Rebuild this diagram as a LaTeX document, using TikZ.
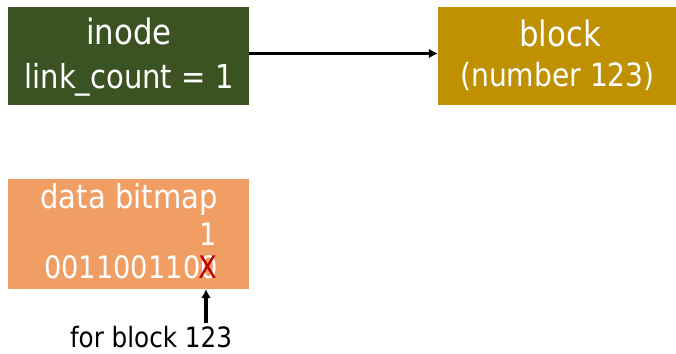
\documentclass[tikz,border=0pt]{standalone}
\usepackage{fontspec}
\setmainfont{DejaVu Sans}[FakeStretch=0.88]
\usetikzlibrary{arrows.meta}
\definecolor{inodegreen}{HTML}{3B5323}
\definecolor{blockgold}{HTML}{BF9000}
\definecolor{bitmaporange}{HTML}{F19E65}
\definecolor{markred}{HTML}{C00000}
\begin{document}
\begin{tikzpicture}[x=1pt,y=-1pt,
  box/.style={draw=none, inner sep=0pt, minimum height=98pt},
  boxtext/.style={text=white, anchor=base, inner sep=0pt, font=\fontsize{32}{40}\selectfont},
  headtext/.style={text=white, anchor=base, inner sep=0pt, font=\fontsize{35}{40}\selectfont},
  bittext/.style={anchor=base, inner sep=0pt, font=\fontsize{31}{38}\selectfont},
  link/.style={-{Latex[length=9pt,width=10pt]}, line width=3.5pt, black}]
\useasboundingbox (0,0) rectangle (676,353);
% inode and the block it points to
\node[box, fill=inodegreen, minimum width=241pt] (inode) at (128.5,56) {};
\node[headtext] (inodename) at (129,45) {inode};
\node[boxtext, font=\fontsize{33}{40}\selectfont] (inodecount) at (129,88) {link\_count = 1};
\node[box, fill=blockgold, minimum width=238pt] (block) at (557,56) {};
\node[headtext] (blockname) at (560,46) {block};
\node[boxtext] (blocknumber) at (557.5,86) {(number 123)};
\draw[link] (inode.east |- 0,53.5) -- (block.west |- 0,53.5);
% data bitmap with the cleared bit
\node[box, fill=bitmaporange, minimum width=241pt, minimum height=110pt] (bitmap) at (128.5,234) {};
\node[bittext, text=white, font=\fontsize{33}{38}\selectfont] (title) at (129,208) {data bitmap};
\node[bittext, text=white, anchor=base east] (bits) at (218,278) {0011001100};
\node[bittext, text=white] (one) at (208,245) {1};
\node[bittext, text=markred] (mark) at (208,278) {X};
\node[anchor=base, inner sep=0pt, font=\fontsize{28}{32}\selectfont] (label) at (151,347) {for block 123};
\coordinate (tail) at (206,323);
\draw[link] (tail) -- (bitmap.south -| tail);
\end{tikzpicture}
\end{document}
